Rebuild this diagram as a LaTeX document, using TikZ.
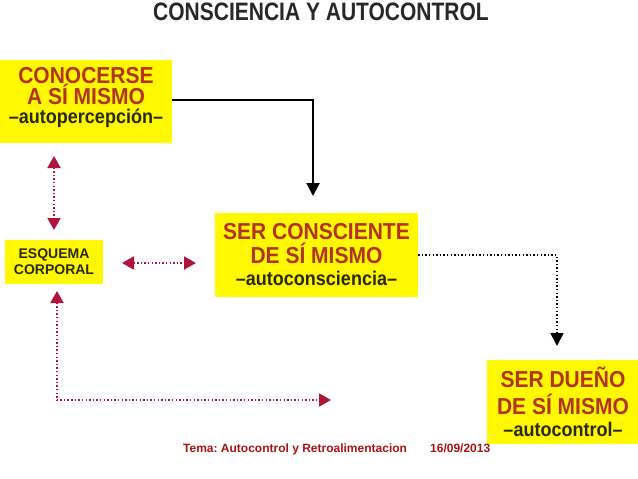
\documentclass[tikz,border=0pt]{standalone}
\usepackage{fontspec}
\setmainfont{Liberation Sans}
\usetikzlibrary{arrows.meta}
\definecolor{boxyellow}{RGB}{255,248,0}
\definecolor{boxred}{RGB}{178,52,32}
\definecolor{boxdark}{RGB}{40,40,20}
\definecolor{arrred}{RGB}{176,20,58}
\definecolor{titlegray}{RGB}{40,40,40}
\definecolor{footred}{RGB}{165,20,20}
\newcommand\mainline[1]{{\fontsize{21}{22}\selectfont\bfseries\color{boxred}\scalebox{1}[1.1]{#1}}}
\newcommand\subline[1]{{\fontsize{18}{22}\selectfont\bfseries\color{boxdark}\scalebox{1}[1.1]{#1}}}
\begin{document}
\begin{tikzpicture}[x=1pt,y=-1pt,
  box/.style={fill=boxyellow, draw=none, inner sep=0pt, align=center},
  bigbox/.style={box, font=\fontsize{21}{22}\selectfont\bfseries},
  redtip/.style={arrows={Triangle[width=13pt,length=12pt]-Triangle[width=13pt,length=12pt]}},
  reddots/.style={draw=arrred, line width=2pt, dash pattern=on 1.4pt off 2.2pt},
  blackdots/.style={draw=black, line width=1.8pt, dash pattern=on 1.4pt off 2.2pt, -{Triangle[width=13pt,length=13pt]}},
  solidarrow/.style={draw=black, line width=2pt, -{Triangle[width=13pt,length=13pt]}}
]
\useasboundingbox (0,0) rectangle (638,479);

% title
\node[anchor=base, text=titlegray, font=\fontsize{21}{22}\selectfont\bfseries, inner sep=0pt]
  (title) at (321,20) {\scalebox{1}[1.2]{CONSCIENCIA Y AUTOCONTROL}};

% boxes
\node[bigbox, minimum width=172pt, minimum height=83pt] (b1) at (86,101.5)
  {\mainline{CONOCERSE}\\[-1pt] \mainline{A SÍ MISMO}\\[-3pt] \subline{–autopercepción–}\rule[-12pt]{0pt}{0pt}};
\node[box, minimum width=98pt, minimum height=44pt, font=\fontsize{14}{16}\selectfont\bfseries, text=boxdark] (b2) at (54,262)
  {ESQUEMA\\CORPORAL};
\node[bigbox, minimum width=203pt, minimum height=84pt] (b3) at (316.5,255)
  {\mainline{SER CONSCIENTE}\\[2pt] \mainline{DE SÍ MISMO}\\[0pt] \subline{–autoconsciencia–}};
\node[bigbox, minimum width=152pt, minimum height=84pt] (b4) at (563,401.5)
  {\mainline{SER DUEÑO}\\[5pt] \mainline{DE SÍ MISMO}\\[0pt] \subline{–autocontrol–}};

% free ends
\coordinate (t1) at (313,196);
\coordinate (v1t) at (54,156);
\coordinate (v1b) at (54,230);
\coordinate (h1l) at (122,263);
\coordinate (h1r) at (196,263);
\coordinate (lt) at (57,291);
\coordinate (lc) at (57,400);
\coordinate (lr) at (331,400);
\coordinate (t4) at (557,346);

% connectors
\draw[solidarrow] (b1.east |- 0,100) -| (t1);
\draw[reddots, redtip, arrred] (v1t) -- (v1b);
\draw[reddots, redtip, arrred] (h1l) -- (h1r);
\draw[reddots, arrred, arrows={Triangle[width=13pt,length=12pt]-Triangle[width=13pt,length=12pt]}] (lt) -- (lc) -- (lr);
\draw[blackdots] (b3.east) -| (t4);

% footer
\node[anchor=base west, inner sep=0pt, text=footred, font=\fontsize{12}{14}\selectfont\bfseries] (foot1) at (183,452)
  {Tema:\ Autocontrol y Retroalimentacion};
\node[anchor=base west, inner sep=0pt, text=footred, font=\fontsize{12}{14}\selectfont\bfseries] (foot2) at (430,452)
  {16/09/2013};
\end{tikzpicture}
\end{document}
